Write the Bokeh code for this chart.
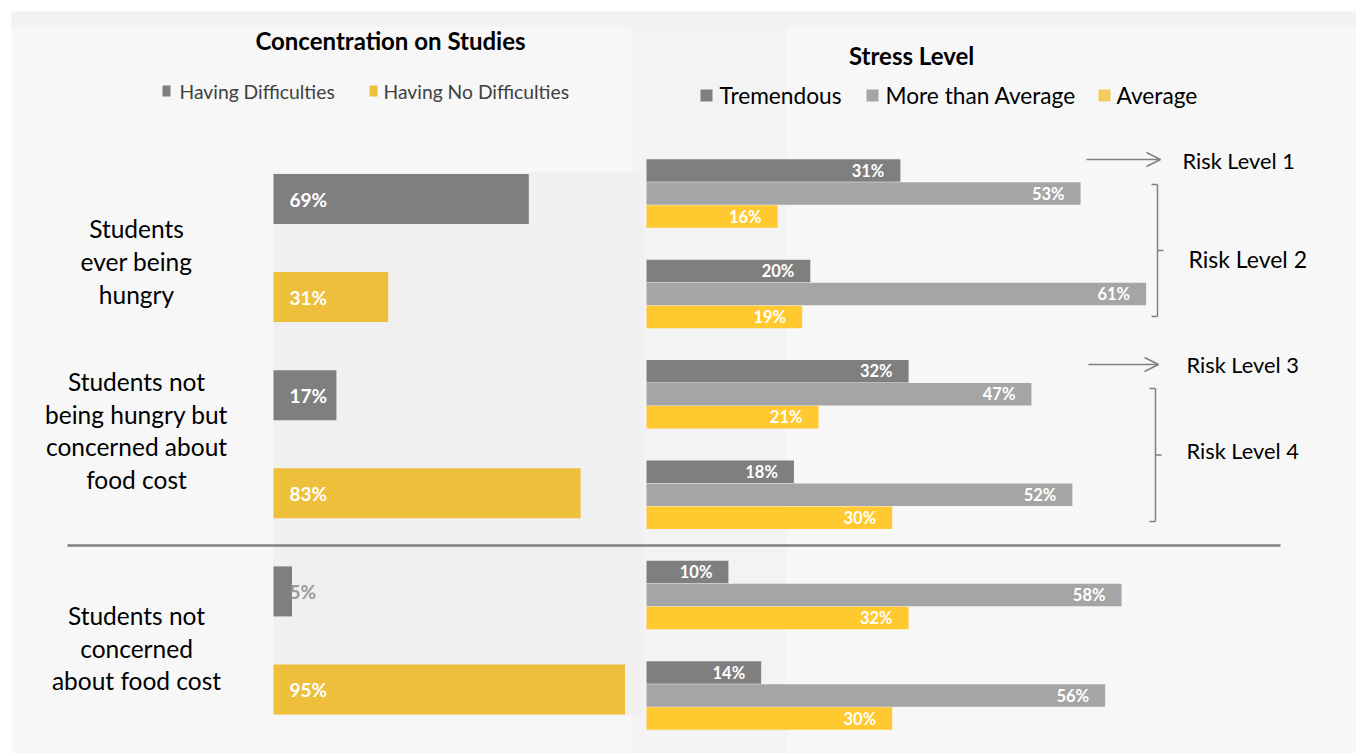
from bokeh.plotting import figure
from bokeh.models import Range1d, Arrow, OpenHead
from bokeh.core.properties import value
from bokeh.embed import file_html
from bokeh.resources import INLINE

# ---------------- data ----------------
group_labels = [
    ["Students", "ever being", "hungry"],
    ["Students not", "being hungry but", "concerned about", "food cost"],
    ["Students not", "concerned", "about food cost"],
]
conc_title = "Concentration on Studies"
conc_series = ["Having Difficulties", "Having No Difficulties"]
conc_difficulties = [69, 17, 5]
conc_no_difficulties = [31, 83, 95]

stress_title = "Stress  Level"
stress_series = ["Tremendous", "More than Average", "Average"]
stress_tremendous = [31, 20, 32, 18, 10, 14]
stress_more_than_avg = [53, 61, 47, 52, 58, 56]
stress_average = [16, 19, 21, 30, 32, 30]

risk_labels = ["Risk Level 1", "Risk Level 2", "Risk Level 3", "Risk Level 4"]

# ---------------- styles ----------------
FONT = "Lato"
C_DARK = "#7f7f7f"
C_LIGHT = "#a5a5a5"
C_YEL_L = "#eebf3a"
C_YEL_R = "#ffc92f"
C_LEG_YEL_R = "#f2cb61"

W, H = 1356, 753
OX, OY = 0, 0                        # page offset of the figure
L_SCALE, L_X0 = 3.70, 273.0          # left chart: px per %, page x of zero
L_STEP, L_Y0 = 98.1, 198.5           # left rows: spacing, page y of row 0
R_SCALE, R_X0 = 8.19, 646.0          # right chart
R_STEP, R_Y0 = 100.4, 193.0          # right groups
R_OFF = 23.0 / R_STEP
LABEL_CENTRES = [0.637, 2.36, 4.58]  # vertical centre of each category label (row units)

XL, XR = OX, OX + W
YT, YB = OY, OY + H

p = figure(width=W, height=H, output_backend="svg", toolbar_location=None,
           x_range=Range1d((XL - L_X0) / L_SCALE, (XR - L_X0) / L_SCALE),
           y_range=Range1d((YB - L_Y0) / L_STEP, (YT - L_Y0) / L_STEP),
           x_axis_location=None, y_axis_location=None, min_border=0)
p.extra_x_ranges = {"r": Range1d((XL - R_X0) / R_SCALE, (XR - R_X0) / R_SCALE),
                    "px": Range1d(XL, XR)}
p.extra_y_ranges = {"r": Range1d((YB - R_Y0) / R_STEP, (YT - R_Y0) / R_STEP),
                    "px": Range1d(YB, YT)}
p.grid.visible = False
p.outline_line_color = None
p.background_fill_color = "white"
p.border_fill_color = "white"

PX = dict(x_range_name="px", y_range_name="px")
RR = dict(x_range_name="r", y_range_name="r")

# ---------------- backgrounds ----------------
p.quad(left=[11, 11, 631, 273], right=[1356, 1356, 786, 643],
       top=[11, 11, 26, 172], bottom=[753, 26, 753, 715],
       fill_color=["#f7f7f7", "#f2f2f2", "#f3f3f3", "#f0f0f0"],
       line_color=None, **PX)

# ---------------- left chart ----------------
n = len(conc_difficulties)
rows_d = [2 * i for i in range(n)]
rows_n = [2 * i + 1 for i in range(n)]
p.hbar(y=rows_d, left=0, right=conc_difficulties, height=0.51, fill_color=C_DARK, line_color=None)
p.hbar(y=rows_n, left=0, right=conc_no_difficulties, height=0.51, fill_color=C_YEL_L, line_color=None)

lab_x = 16 / L_SCALE
p.text(x=[lab_x] * n, y=rows_d, text=[f"{v}%" for v in conc_difficulties],
       text_color=["white" if v > 8 else "#9a9a9a" for v in conc_difficulties],
       text_font=value(FONT), text_font_style="bold", text_font_size="19px",
       text_align="left", text_baseline="middle")
p.text(x=[lab_x] * n, y=rows_n, text=[f"{v}%" for v in conc_no_difficulties],
       text_color="white", text_font=value(FONT), text_font_style="bold",
       text_font_size="19px", text_align="left", text_baseline="middle")

# category labels (multi-line)
lab_cx = (136 - L_X0) / L_SCALE
line_gap = 32.7 / L_STEP
for centre, lines in zip(LABEL_CENTRES, group_labels):
    k = len(lines)
    ys = [centre + (j - (k - 1) / 2) * line_gap for j in range(k)]
    p.text(x=[lab_cx] * k, y=ys, text=lines, text_color="black",
           text_font=value(FONT), text_font_size="24.5px",
           text_align="center", text_baseline="middle")

# title + legend
p.text(x=[390], y=[40], text=[conc_title], text_font=value(FONT), text_font_style="bold",
       text_font_size="24px", text_align="center", text_baseline="middle", **PX)
p.quad(left=[162, 369], right=[170, 377], top=[85, 85], bottom=[96, 96],
       fill_color=[C_DARK, C_YEL_L], line_color=None, **PX)
p.text(x=[179, 383], y=[90.5, 90.5], text=conc_series, text_color="#404040",
       text_font=value(FONT), text_font_size="19.3px", text_align="left",
       text_baseline="middle", **PX)

# ---------------- right chart ----------------
g = len(stress_tremendous)
ys_t = [i - R_OFF for i in range(g)]
ys_m = [i for i in range(g)]
ys_a = [i + R_OFF for i in range(g)]
bh = 22.5 / R_STEP
for ys, vals, col in [(ys_t, stress_tremendous, C_DARK),
                      (ys_m, stress_more_than_avg, C_LIGHT),
                      (ys_a, stress_average, C_YEL_R)]:
    p.hbar(y=ys, left=0, right=vals, height=bh, fill_color=col, line_color=None, **RR)
    p.text(x=[v - 16 / R_SCALE for v in vals], y=ys, text=[f"{v}%" for v in vals],
           text_color="white", text_font=value(FONT), text_font_style="bold",
           text_font_size="16.5px", text_align="right", text_baseline="middle", **RR)

p.text(x=[914], y=[55], text=[stress_title], text_font=value(FONT), text_font_style="bold",
       text_font_size="24px", text_align="center", text_baseline="middle", **PX)
p.quad(left=[700, 866, 1098], right=[712, 878, 1110], top=[89, 89, 89], bottom=[101, 101, 101],
       fill_color=[C_DARK, C_LIGHT, C_LEG_YEL_R], line_color=None, **PX)
p.text(x=[719, 885, 1116], y=[95, 95, 95], text=stress_series, text_color="black",
       text_font=value(FONT), text_font_size="22.7px", text_align="left",
       text_baseline="middle", **PX)

# ---------------- risk annotations ----------------
for xs, xe, yy in [(1086, 1160, 159), (1088, 1158, 364)]:
    p.add_layout(Arrow(x_start=xs, y_start=yy, x_end=xe, y_end=yy,
                       line_color="#808080", line_width=1.5,
                       end=OpenHead(size=14, line_color="#808080", line_width=1.5), **PX))
for bx, by0, by1 in [(1157, 184, 316), (1155, 388, 521)]:
    mid = (by0 + by1) / 2
    p.segment(x0=[bx, bx - 6, bx - 6, bx], y0=[by0, by0, by1, mid],
              x1=[bx, bx, bx, bx + 6], y1=[by1, by0, by1, mid],
              line_color="#808080", line_width=1.5, **PX)

p.text(x=[1182, 1188, 1186, 1186], y=[160, 258, 364, 450], text=risk_labels,
       text_color="black", text_font=value(FONT),
       text_font_size=["21.8px", "23px", "21.8px", "21.8px"],
       text_align="left", text_baseline="middle", **PX)

# separator
p.segment(x0=[67], y0=[545], x1=[1280], y1=[545], line_color="#808080", line_width=2.5, **PX)

open("out.html", "w").write(file_html(p, INLINE))
